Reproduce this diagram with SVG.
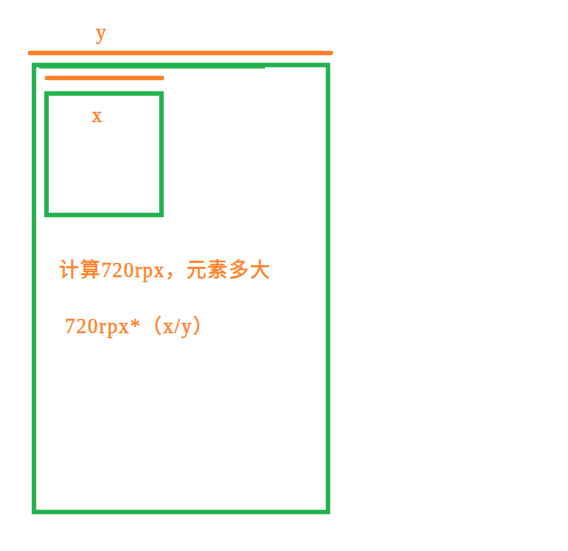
<svg xmlns="http://www.w3.org/2000/svg" width="568" height="551" viewBox="0 0 568 551">
<style>
.box{fill:none;stroke:#22B14C;stroke-width:4.5}
.ruler{stroke:#FF7F27;stroke-width:4.5;stroke-linecap:round}
.lbl{fill:#FF7F27;stroke:#FF7F27;stroke-width:0.4;font-family:"Liberation Serif","Noto Sans CJK SC",serif;font-size:20px}
</style>
<rect width="568" height="551" fill="#ffffff"/>
<g id="connectors">
<line class="ruler" x1="30" y1="53" x2="331" y2="53"/>
<line class="ruler" x1="47" y1="78" x2="162" y2="78"/>
</g>
<g id="outer">
<rect class="box" x="34" y="65" width="294" height="447"/>
<line x1="39" y1="67.5" x2="265" y2="67.5" stroke="#22B14C" stroke-width="2"/>
</g>
<g id="inner">
<rect class="box" x="46.5" y="93.5" width="115" height="121.5"/>
</g>
<g id="label-y"><text class="lbl" x="96" y="39">y</text></g>
<g id="label-x"><text class="lbl" x="92" y="121.5">x</text></g>
<g id="note1"><text class="lbl" x="59" y="277" textLength="211" lengthAdjust="spacing">计算720rpx，元素多大</text></g>
<g id="note2"><text class="lbl" x="65" y="333" textLength="148" lengthAdjust="spacing">720rpx*（x/y）</text></g>
</svg>
